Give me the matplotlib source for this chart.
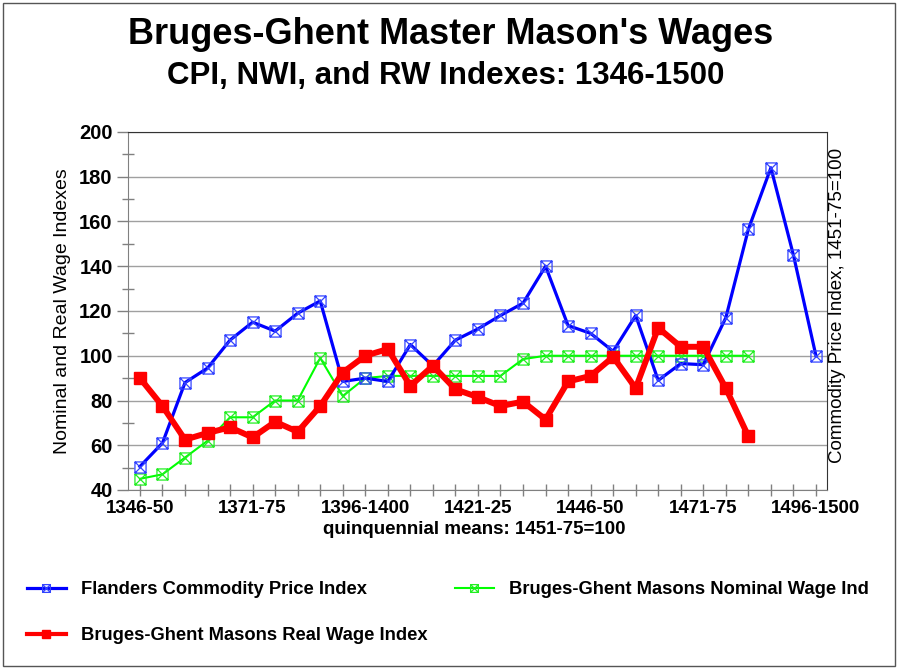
import matplotlib
matplotlib.use("Agg")
import matplotlib.pyplot as plt
from matplotlib.path import Path
from matplotlib.patches import Rectangle

plt.rcParams['font.family'] = ['Liberation Sans', 'DejaVu Sans']

# quinquennial periods, 1346-50 .. 1496-1500
periods = ["1346-50", "1351-55", "1356-60", "1361-65", "1366-70", "1371-75",
           "1376-80", "1381-85", "1386-90", "1391-95", "1396-1400", "1401-05",
           "1406-10", "1411-15", "1416-20", "1421-25", "1426-30", "1431-35",
           "1436-40", "1441-45", "1446-50", "1451-55", "1456-60", "1461-65",
           "1466-70", "1471-75", "1476-80", "1481-85", "1486-90", "1491-95",
           "1496-1500"]
shown_labels = ["1346-50", "1371-75", "1396-1400", "1421-25", "1446-50",
                "1471-75", "1496-1500"]

cpi = [50.5, 61, 88, 94.5, 107, 115, 111, 119, 124.5, 88.5, 90, 88.5, 105,
       95.5, 107, 112, 118, 123.5, 140, 113.5, 110, 102, 118, 89, 96.5, 96,
       117, 156.5, 184, 145, 100]
nwi = [45, 47, 54.5, 62, 72.5, 72.5, 80, 80, 99, 82, 90, 91, 91, 91, 91, 91,
       91, 98.5, 100, 100, 100, 100, 100, 100, 100, 100, 100, 100]
rwi = [90, 77.5, 62.5, 65.5, 68, 63.5, 70.5, 66, 77.5, 92.5, 100, 103, 86.5,
       95.5, 85, 81.5, 77.5, 79.5, 71.5, 88.5, 91, 99.5, 85.5, 112.5, 104, 104,
       85.5, 64]

# square with an X inside
boxx = Path([(-1, -1), (1, -1), (1, 1), (-1, 1), (-1, -1),
             (-1, -1), (1, 1), (-1, 1), (1, -1)],
            [Path.MOVETO, Path.LINETO, Path.LINETO, Path.LINETO, Path.CLOSEPOLY,
             Path.MOVETO, Path.LINETO, Path.MOVETO, Path.LINETO])

W, H = 901, 669
fig = plt.figure(figsize=(W / 100, H / 100), dpi=100)
ax = fig.add_axes([128 / W, 1 - 490 / H, (827 - 128) / W, (490 - 132) / H])

x_all = list(range(len(periods)))
ax.plot(x_all[:len(nwi)], nwi, color='#00ff00', lw=1.5, marker=boxx, ms=8,
        mfc='none', mec='#22ee22', mew=0.9, label='Bruges-Ghent Masons Nominal Wage Ind', zorder=3)
ax.plot(x_all, cpi, color='#0000ff', lw=2.3, marker=boxx, ms=8,
        mfc='none', mec='#3344ff', mew=0.9, label='Flanders Commodity Price Index', zorder=4)
ax.plot(x_all[:len(rwi)], rwi, color='#ff0000', lw=4.3, marker='s', ms=9,
        mfc='#ff0000', mec='#ff0000', label='Bruges-Ghent Masons Real Wage Index', zorder=5)

ax.set_xlim(-0.53, 30.49)
ax.set_ylim(40, 200)
ax.set_yticks(range(40, 201, 20))
ax.set_yticks(range(50, 200, 20), minor=True)
ax.set_xticks([periods.index(p) for p in shown_labels])
ax.set_xticklabels(shown_labels)
ax.set_xticks(x_all, minor=True)

for lab in ax.get_yticklabels() + ax.get_xticklabels():
    lab.set_fontweight('bold')
ax.tick_params(axis='y', which='major', direction='out', length=8, width=1,
               color='#808080', labelsize=14.5, pad=3)
ax.tick_params(axis='y', which='minor', direction='inout', length=9, width=1, color='#808080')
ax.tick_params(axis='x', which='both', direction='inout', length=9, width=1,
               color='#808080', labelsize=13.5, pad=3)

ax.grid(axis='y', which='major', color='#a0a0a0', lw=1)
ax.set_axisbelow(True)
ax.spines['left'].set_color('#808080')
ax.spines['bottom'].set_color('#808080')
ax.spines['top'].set_color('#333333')
ax.spines['right'].set_color('#333333')

fig.text(451 / W, 1 - 35 / H, "Bruges-Ghent Master Mason's Wages", ha='center', va='center',
         fontsize=26, fontweight='bold')
fig.text(446 / W, 1 - 76 / H, "CPI, NWI, and RW Indexes: 1346-1500", ha='center', va='center',
         fontsize=22.5, fontweight='bold')
fig.text(63 / W, 1 - 311 / H, "Nominal and Real Wage Indexes", rotation=90, ha='center',
         va='center', fontsize=14)
fig.text(837 / W, 1 - 305 / H, "Commodity Price Index, 1451-75=100", rotation=90, ha='center',
         va='center', fontsize=13.5)
fig.text(474 / W, 1 - 530 / H, "quinquennial means: 1451-75=100", ha='center', va='center',
         fontsize=13.5, fontweight='bold')

h, l = ax.get_legend_handles_labels()
order = [1, 2, 0]
leg = fig.legend([h[i] for i in order], [l[i] for i in order], loc='upper left',
                 bbox_to_anchor=(27 / W, 1 - 581 / H), ncol=2, frameon=False,
                 prop={'size': 13.2, 'weight': 'bold'}, handlelength=2.1, handletextpad=0.85,
                 columnspacing=1.5, labelspacing=1.6, borderpad=0, borderaxespad=0,
                 markerscale=0.7)
for lh in leg.legend_handles:
    if lh.get_linewidth() > 4:
        lh.set_linewidth(3.0)

fig.patches.append(Rectangle((3 / W, 3 / H), 892 / W, 663 / H, transform=fig.transFigure,
                             fill=False, edgecolor='#555555', lw=1))

fig.savefig('out.png', dpi=100)
